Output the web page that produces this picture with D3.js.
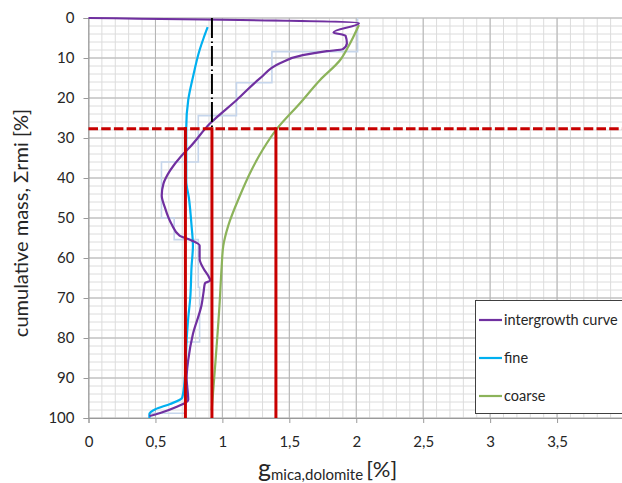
<!DOCTYPE html>
<html>
<head>
<meta charset="utf-8">
<script src="https://cdn.jsdelivr.net/npm/d3@7"></script>
<style>
  body { margin: 0; background: #fff; }
  text { font-family: Lato, "Open Sans", sans-serif; fill: #262626; }
</style>
</head>
<body>
<div id="chart"></div>
<script>
// ---------- data ----------
// intergrowth curve: g [%] against cumulative mass [%]
var intergrowthG = [0, 2.02, 1.83, 1.92, 1.93, 1.90, 1.78, 1.60, 1.43, 1.28, 1.107, 0.907, 0.76, 0.69, 0.61, 0.56, 0.547, 0.57, 0.62, 0.68, 0.77, 0.83, 0.83, 0.86, 0.90, 0.91, 0.87, 0.86, 0.845, 0.78, 0.745, 0.733, 0.745, 0.66, 0.53, 0.455];
var intergrowthM = [0, 1.3, 3.6, 4.4, 6.3, 7.8, 8.3, 9.3, 11.3, 15.1, 20.5, 26.4, 32.2, 34.6, 38.1, 41.4, 44.4, 47.3, 51.5, 54.4, 55.6, 56.9, 60.2, 62.7, 64.8, 65.6, 66.3, 68.4, 71.7, 79, 85.5, 89.9, 95.5, 97.2, 98.8, 99.5];

var fineG = [0.89, 0.86, 0.83, 0.78, 0.745, 0.73, 0.73, 0.73, 0.75, 0.77, 0.78, 0.77, 0.76, 0.745, 0.733, 0.72, 0.70, 0.61, 0.50, 0.455, 0.455];
var fineM = [2.3, 5, 8, 14.8, 20.5, 27.5, 33, 40.6, 45, 52, 57, 62, 70, 75, 80.5, 89.9, 94.9, 96.5, 97.8, 99, 100];

var coarseG = [2.02, 1.94, 1.88, 1.73, 1.58, 1.41, 1.30, 1.206, 1.13, 1.044, 1.007, 0.995, 0.98, 0.945, 0.925, 0.92];
var coarseM = [1.75, 7.2, 10.5, 15.5, 21.3, 27.6, 33, 38.8, 44.5, 51.9, 56.9, 62, 71, 87.4, 96, 98];

// histogram steps of the intergrowth curve (value per mass class)
var stepG = [2.01, 1.37, 1.105, 0.82, 0.545, 0.64, 0.82, 0.83, 0.72, 0.455];
var stepBounds = [0, 8.4, 16.2, 24.4, 36, 50, 55.4, 67.3, 81, 98.8, 100];

// reading lines
var readMass = 27.7;
var readG = [0.724, 0.922, 1.40];
var medianG = 0.922;

var xTicks = [0, 0.5, 1, 1.5, 2, 2.5, 3, 3.5];
var xTickLabels = ["0", "0,5", "1", "1,5", "2", "2,5", "3", "3,5"];
var yTicks = [0, 10, 20, 30, 40, 50, 60, 70, 80, 90, 100];

var legendNames = ["intergrowth curve", "fine", "coarse"];
var legendColors = ["#7030a0", "#00b0f0", "#8cb35a"];

// ---------- layout ----------
var W = 622, H = 483;
var x = d3.scaleLinear().domain([0, 4]).range([88.5, 624]);
var y = d3.scaleLinear().domain([0, 100]).range([18, 418]);

var svg = d3.select("#chart").append("svg")
  .attr("width", W)
  .attr("height", H)
  .style("background", "#fff");

// grid, minor then major
var minorX = d3.range(0, 40).map(function(i){ return i / 10; });
var minorY = d3.range(0, 51).map(function(i){ return i * 2; });
var grid = svg.append("g");
grid.selectAll(".mx").data(minorX).enter().append("line")
  .attr("x1", function(d){ return x(d); }).attr("x2", function(d){ return x(d); })
  .attr("y1", y(0)).attr("y2", y(100))
  .attr("stroke", "#dcdcdc").attr("stroke-width", 1);
grid.selectAll(".my").data(minorY).enter().append("line")
  .attr("y1", function(d){ return y(d); }).attr("y2", function(d){ return y(d); })
  .attr("x1", x(0)).attr("x2", W)
  .attr("stroke", "#dcdcdc").attr("stroke-width", 1);
grid.selectAll(".Mx").data(xTicks).enter().append("line")
  .attr("x1", function(d){ return x(d); }).attr("x2", function(d){ return x(d); })
  .attr("y1", y(0)).attr("y2", y(100))
  .attr("stroke", "#b4b4b4").attr("stroke-width", 1);
grid.selectAll(".My").data(yTicks).enter().append("line")
  .attr("y1", function(d){ return y(d); }).attr("y2", function(d){ return y(d); })
  .attr("x1", x(0)).attr("x2", W)
  .attr("stroke", "#b4b4b4").attr("stroke-width", 1);

// axes
var yAxis = svg.append("g")
  .attr("transform", "translate(" + x(0) + ",0)")
  .call(d3.axisLeft(y).tickValues(yTicks).tickSize(5).tickPadding(9).tickFormat(d3.format("d")));
var xAxis = svg.append("g")
  .attr("transform", "translate(0," + y(100) + ")")
  .call(d3.axisBottom(x).tickValues(xTicks).tickSize(5).tickPadding(13)
    .tickFormat(function(d, i){ return xTickLabels[i]; }));
[xAxis, yAxis].forEach(function(a){
  a.select(".domain").attr("stroke", "#9a9a9a");
  a.selectAll(".tick line").attr("stroke", "#9a9a9a");
  a.selectAll(".tick text").style("font-size", "15px").attr("fill", "#262626")
    .style("font-family", "Lato, 'Open Sans', sans-serif");
});

// step line
var stepPts = [];
for (var i = 0; i < stepG.length; i++) {
  stepPts.push([stepG[i], stepBounds[i]]);
  stepPts.push([stepG[i], stepBounds[i + 1]]);
}
svg.append("path")
  .datum(stepPts)
  .attr("fill", "none")
  .attr("stroke", "#c6d6ec")
  .attr("stroke-width", 1.6)
  .attr("d", d3.line().x(function(d){ return x(d[0]); }).y(function(d){ return y(d[1]); }));

// curves
function curve(g, m, color) {
  var pts = g.map(function(v, i){ return [v, m[i]]; });
  svg.append("path")
    .datum(pts)
    .attr("fill", "none")
    .attr("stroke", color)
    .attr("stroke-width", 2.2)
    .attr("stroke-linejoin", "round")
    .attr("d", d3.line()
      .curve(d3.curveMonotoneY)
      .x(function(d){ return x(d[0]); })
      .y(function(d){ return y(d[1]); }));
}
curve(fineG, fineM, legendColors[1]);
curve(coarseG, coarseM, legendColors[2]);
curve(intergrowthG, intergrowthM, legendColors[0]);

// black dash-dot
svg.append("line")
  .attr("x1", x(medianG)).attr("x2", x(medianG))
  .attr("y1", y(0)).attr("y2", y(readMass))
  .attr("stroke", "#000").attr("stroke-width", 2)
  .attr("stroke-dasharray", "20,3.5,1.5,3");

// red reading lines
svg.append("line")
  .attr("x1", x(0)).attr("x2", W)
  .attr("y1", y(readMass)).attr("y2", y(readMass))
  .attr("stroke", "#c80000").attr("stroke-width", 3)
  .attr("stroke-dasharray", "9.5,3.2");
svg.selectAll(".rv").data(readG).enter().append("line")
  .attr("x1", function(d){ return x(d); }).attr("x2", function(d){ return x(d); })
  .attr("y1", y(readMass) - 1.5).attr("y2", y(100))
  .attr("stroke", "#c80000").attr("stroke-width", 3);

// legend
var lg = svg.append("g");
lg.append("rect")
  .attr("x", 475.5).attr("y", 300.5).attr("width", 160).attr("height", 113)
  .attr("fill", "#fff").attr("stroke", "#404040").attr("stroke-width", 1);
legendNames.forEach(function(name, i){
  var ly = 320 + i * 38;
  lg.append("line")
    .attr("x1", 479).attr("x2", 502).attr("y1", ly).attr("y2", ly)
    .attr("stroke", legendColors[i]).attr("stroke-width", 2.2);
  lg.append("text")
    .attr("x", 504).attr("y", ly + 5)
    .style("font-size", "14.5px")
    .text(name);
});

// axis titles
svg.append("text")
  .attr("transform", "translate(28,223) rotate(-90)")
  .attr("text-anchor", "middle")
  .style("font-size", "20px")
  .text("cumulative mass, \u03A3rmi [%]");

var xt = svg.append("text")
  .attr("x", 258).attr("y", 477);
xt.append("tspan").style("font-size", "25px").text("g");
xt.append("tspan").style("font-size", "15px").attr("dy", 3).text("mica,dolomite");
xt.append("tspan").style("font-size", "22px").attr("dy", -3).attr("dx", 3).text("[%]");
</script>
</body>
</html>
